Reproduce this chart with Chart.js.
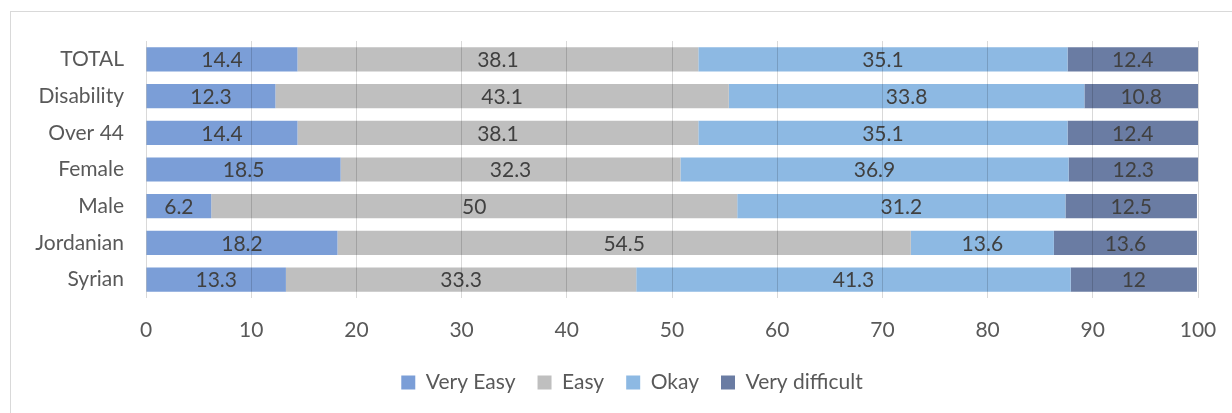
<!DOCTYPE html>
<html>
<head>
<meta charset="utf-8">
<script src="https://cdn.jsdelivr.net/npm/chart.js@4"></script>
<style>
html,body{margin:0;padding:0;background:#fff;width:1232px;height:413px;overflow:hidden;}
#frame{position:absolute;left:10px;top:11px;width:1300px;height:500px;border:1px solid #d9d9d9;box-sizing:border-box;}
#wrap{position:absolute;left:0;top:0;width:1232px;height:413px;}
</style>
</head>
<body>
<div id="frame"></div>
<div id="wrap"><canvas id="c"></canvas></div>
<script>
const categories = ['TOTAL','Disability','Over 44','Female','Male','Jordanian','Syrian'];
const veryEasy = [14.4,12.3,14.4,18.5,6.2,18.2,13.3];
const easy = [38.1,43.1,38.1,32.3,50,54.5,33.3];
const okay = [35.1,33.8,35.1,36.9,31.2,13.6,41.3];
const veryDifficult = [12.4,10.8,12.4,12.3,12.5,13.6,12];
const xTicks = [0,10,20,30,40,50,60,70,80,90,100];

const FONT = 'Lato, "Liberation Sans", sans-serif';

const labelPlugin = {
  id: 'segLabels',
  afterDatasetsDraw(chart) {
    const ctx = chart.ctx;
    ctx.save();
    ctx.font = '21px ' + FONT;
    ctx.fillStyle = '#404040';
    ctx.textAlign = 'center';
    ctx.textBaseline = 'middle';
    chart.data.datasets.forEach((ds, di) => {
      const meta = chart.getDatasetMeta(di);
      meta.data.forEach((bar, i) => {
        const x = (bar.x + bar.base) / 2;
        ctx.fillText(String(ds.data[i]), x, bar.y + 1);
      });
    });
    ctx.restore();
  }
};

const legendShift = {
  id: 'legendShift',
  afterLayout(chart) {
    const lg = chart.legend;
    if (lg) { lg.left += 33; lg.right += 33; }
  }
};

new Chart(document.getElementById('c'), {
  type: 'bar',
  data: {
    labels: categories,
    datasets: [
      {label: 'Very Easy', data: veryEasy, backgroundColor: '#7b9ed7'},
      {label: 'Easy', data: easy, backgroundColor: '#bfbfbf'},
      {label: 'Okay', data: okay, backgroundColor: '#8db9e3'},
      {label: 'Very difficult', data: veryDifficult, backgroundColor: '#6a7ca3'}
    ]
  },
  options: {
    indexAxis: 'y',
    responsive: true,
    maintainAspectRatio: false,
    animation: false,
    layout: {padding: {top: 41, right: 34, bottom: 10, left: 0}},
    datasets: {bar: {categoryPercentage: 1, barPercentage: 0.66, borderWidth: 0}},
    scales: {
      x: {
        stacked: true, min: 0, max: 100,
        afterBuildTicks(axis) { axis.ticks = xTicks.map(v => ({value: v})); },
        grid: {color: 'rgba(0,0,0,0.15)', drawTicks: false, z: 1},
        border: {display: false},
        ticks: {color: '#595959', font: {family: FONT, size: 21}, padding: 20},
        afterFit(axis) { axis.height = 52; axis.paddingRight = 0; axis.paddingLeft = 0; }
      },
      y: {
        stacked: true,
        grid: {display: false, drawTicks: false},
        border: {display: false},
        ticks: {color: '#595959', font: {family: FONT, size: 21}, padding: 22},
        afterFit(axis) { axis.width = 146; axis.paddingTop = 0; axis.paddingBottom = 0; }
      }
    },
    plugins: {
      legend: {
        position: 'bottom',
        labels: {
          color: '#595959',
          font: {family: FONT, size: 21},
          boxWidth: 14, boxHeight: 14, padding: 22
        }
      },
      tooltip: {enabled: false}
    }
  },
  plugins: [labelPlugin, legendShift]
});
</script>
</body>
</html>
